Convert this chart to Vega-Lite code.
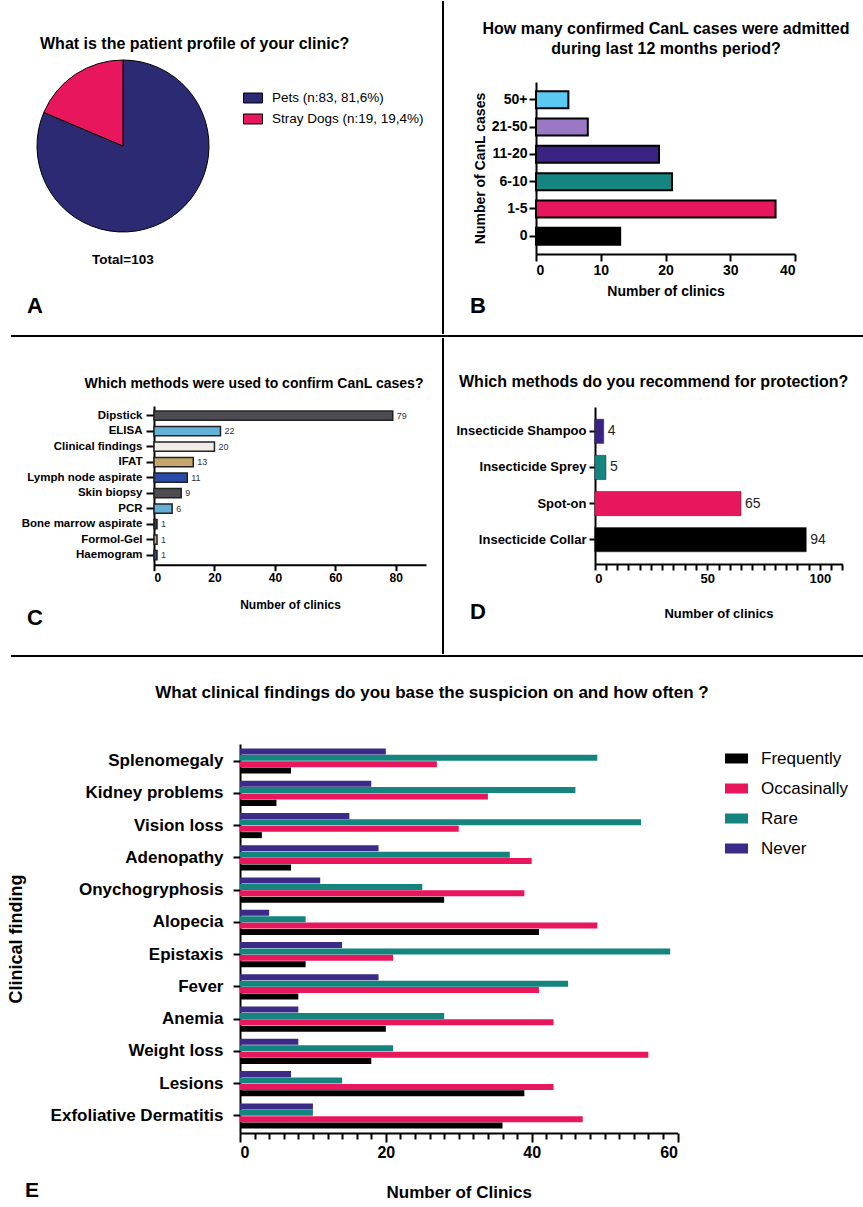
{
  "$schema": "https://vega.github.io/schema/vega-lite/v6.json",
  "padding": 0,
  "background": "white",
  "bounds": "full",
  "spacing": 0,
  "resolve": {"scale": {"color": "independent"}, "legend": {"color": "independent"}},
  "config": {
    "font": "Liberation Sans",
    "view": {"stroke": null},
    "axis": {"domainColor": "black", "domainWidth": 2, "tickColor": "black", "tickWidth": 2, "labelColor": "black", "titleColor": "black", "labelFontWeight": "bold", "titleFontWeight": "bold", "grid": false, "labelLimit": 400},
    "legend": {"labelColor": "black", "padding": 0},
    "title": {"color": "black", "fontWeight": "bold"}
  },
  "vconcat": [
    {
      "bounds": "flush",
      "spacing": 0,
      "resolve": {"scale": {"color": "independent"}, "legend": {"color": "independent"}},
      "hconcat": [
        {
          "width": 10, "height": 334,
          "view": {"fill": "white", "stroke": null},
          "data": {"values": []},
          "mark": "point",
          "title": {"text": "Total=103", "orient": "bottom", "anchor": "start", "frame": "group", "dx": 92, "offset": -82, "fontSize": 13.5}
        },
        {
          "width": 1, "height": 334,
          "data": {"values": []},
          "mark": "point",
          "title": {"text": "A", "orient": "bottom", "anchor": "start", "frame": "group", "dx": 17, "offset": -39, "fontSize": 22}
        },
        {
          "width": 431, "height": 334,
          "title": {"text": "What is the patient profile of your clinic?", "anchor": "start", "frame": "group", "dx": 29, "offset": -51, "fontSize": 16},
          "data": {"values": [
            {"group": "Pets (n:83, 81,6%)", "n": 83},
            {"group": "Stray Dogs (n:19, 19,4%)", "n": 19}
          ]},
          "mark": {"type": "arc", "outerRadius": 86, "stroke": "black", "strokeWidth": 1, "xOffset": -103.5, "yOffset": -22},
          "encoding": {
            "theta": {"field": "n", "type": "quantitative", "stack": true},
            "color": {"field": "group", "type": "nominal",
              "scale": {"domain": ["Pets (n:83, 81,6%)", "Stray Dogs (n:19, 19,4%)"], "range": ["#2b2a73", "#e8175d"]},
              "legend": {"orient": "none", "legendX": 232, "legendY": 87, "title": null, "symbolType": "M-1,-0.526H1V0.526H-1Z", "symbolSize": 361, "symbolStrokeColor": "black", "symbolStrokeWidth": 1, "labelFontSize": 13.5, "labelOffset": 9, "rowPadding": 4}}
          }
        },
        {
          "width": 2, "height": 333,
          "data": {"values": [{}]},
          "mark": {"type": "rule", "strokeWidth": 2, "color": "black"},
          "encoding": {"x": {"datum": 0, "type": "quantitative", "scale": {"domain": [-1, 1]}, "axis": null}},
          "title": {"text": "B", "orient": "bottom", "anchor": "start", "frame": "group", "dx": 28, "offset": -39, "fontSize": 22}
        },
        {
          "width": 419, "height": 334,
          "title": {"text": ["How many confirmed CanL cases were admitted", "during last 12 months period?"], "anchor": "middle", "frame": "group", "dx": 12.5, "offset": -56, "fontSize": 16, "lineHeight": 20},
          "data": {"values": [
            {"cases": "50+", "clinics": 5},
            {"cases": "21-50", "clinics": 8},
            {"cases": "11-20", "clinics": 19},
            {"cases": "6-10", "clinics": 21},
            {"cases": "1-5", "clinics": 37},
            {"cases": "0", "clinics": 13}
          ]},
          "mark": {"type": "bar", "stroke": "black", "strokeWidth": 2},
          "encoding": {
            "y": {"field": "cases", "type": "nominal", "sort": ["50+", "21-50", "11-20", "6-10", "1-5", "0"],
              "scale": {"range": [81, 253], "paddingInner": 0.38, "paddingOuter": 0.337},
              "axis": {"orient": "left", "offset": -92, "title": "Number of CanL cases", "titleFontSize": 14, "labelFontSize": 14, "tickSize": 7, "labelPadding": 2, "titlePadding": 4}},
            "x": {"field": "clinics", "type": "quantitative",
              "scale": {"domain": [0, 40], "range": [92, 351], "nice": false},
              "axis": {"orient": "bottom", "offset": -81, "values": [0, 10, 20, 30, 40], "tickSize": 7, "labelFontSize": 14, "title": "Number of clinics", "titleFontSize": 14, "titlePadding": 7}},
            "color": {"field": "cases", "type": "nominal",
              "scale": {"domain": ["50+", "21-50", "11-20", "6-10", "1-5", "0"], "range": ["#5bc8f2", "#9a78c6", "#3b2384", "#15857f", "#e8175d", "#000000"]},
              "legend": null}
          }
        }
      ]
    },
    {
      "bounds": "flush",
      "spacing": 0,
      "hconcat": [
        {"width": 11, "height": 2, "view": {"fill": "white", "stroke": null}, "data": {"values": []}, "mark": "point"},
        {
          "width": 852, "height": 2,
          "data": {"values": [{}]},
          "mark": {"type": "rule", "strokeWidth": 2, "color": "black"},
          "encoding": {"y": {"datum": 0, "type": "quantitative", "scale": {"domain": [-1, 1]}, "axis": null}}
        }
      ]
    },
    {
      "bounds": "flush",
      "spacing": 0,
      "resolve": {"scale": {"color": "independent"}, "legend": {"color": "independent"}},
      "hconcat": [
        {"width": 10, "height": 317, "view": {"fill": "white", "stroke": null}, "data": {"values": []}, "mark": "point"},
        {
          "width": 1, "height": 317,
          "data": {"values": []},
          "mark": "point",
          "title": {"text": "C", "orient": "bottom", "anchor": "start", "frame": "group", "dx": 17, "offset": -47, "fontSize": 22}
        },
        {
          "width": 431, "height": 317,
          "title": {"text": "Which methods were used to confirm CanL cases?", "anchor": "middle", "frame": "group", "dx": 27.5, "offset": -53, "fontSize": 14},
          "data": {"values": [
            {"method": "Dipstick", "clinics": 79},
            {"method": "ELISA", "clinics": 22},
            {"method": "Clinical findings", "clinics": 20},
            {"method": "IFAT", "clinics": 13},
            {"method": "Lymph node aspirate", "clinics": 11},
            {"method": "Skin biopsy", "clinics": 9},
            {"method": "PCR", "clinics": 6},
            {"method": "Bone marrow aspirate", "clinics": 1},
            {"method": "Formol-Gel", "clinics": 1},
            {"method": "Haemogram", "clinics": 1}
          ]},
          "encoding": {
            "y": {"field": "method", "type": "nominal", "sort": null,
              "scale": {"range": [68, 226.7], "paddingInner": 0.4, "paddingOuter": 0.325},
              "axis": {"orient": "left", "offset": -143, "title": null, "labelFontSize": 11.5, "tickSize": 8, "labelPadding": 4}},
            "x": {"field": "clinics", "type": "quantitative",
              "scale": {"domain": [0, 90], "range": [143, 415], "nice": false},
              "axis": {"orient": "bottom", "offset": -90.3, "values": [0, 20, 40, 60, 80], "tickSize": 6, "labelFontSize": 12, "title": "Number of clinics", "titleFontSize": 12, "titlePadding": 16}}
          },
          "layer": [
            {
              "mark": {"type": "bar", "stroke": "#222222", "strokeWidth": 1.5},
              "encoding": {
                "color": {"field": "method", "type": "nominal",
                  "scale": {"domain": ["Dipstick", "ELISA", "Clinical findings", "IFAT", "Lymph node aspirate", "Skin biopsy", "PCR", "Bone marrow aspirate", "Formol-Gel", "Haemogram"],
                    "range": ["#4c4c52", "#63b1d6", "#f1ece6", "#c8a76a", "#2a4aa8", "#4c4c52", "#63b1d6", "#3b3b3b", "#c8a76a", "#2a4aa8"]},
                  "legend": null}
              }
            },
            {
              "mark": {"type": "text", "align": "left", "dx": 4, "fontSize": 9, "color": "#333333"},
              "encoding": {"text": {"field": "clinics", "type": "quantitative"}}
            }
          ]
        },
        {
          "width": 2, "height": 316,
          "data": {"values": [{}]},
          "mark": {"type": "rule", "strokeWidth": 2, "color": "black"},
          "encoding": {"x": {"datum": 0, "type": "quantitative", "scale": {"domain": [-1, 1]}, "axis": null}},
          "title": {"text": "D", "orient": "bottom", "anchor": "start", "frame": "group", "dx": 28, "offset": -53, "fontSize": 22}
        },
        {
          "width": 419, "height": 317,
          "title": {"text": "Which methods do you recommend for protection?", "anchor": "start", "frame": "group", "dx": 15, "offset": -52, "fontSize": 16},
          "data": {"values": [
            {"method": "Insecticide Shampoo", "clinics": 4},
            {"method": "Insecticide Sprey", "clinics": 5},
            {"method": "Spot-on", "clinics": 65},
            {"method": "Insecticide Collar", "clinics": 94}
          ]},
          "encoding": {
            "y": {"field": "method", "type": "nominal", "sort": null,
              "scale": {"range": [69, 226], "paddingInner": 0.33, "paddingOuter": 0.3375},
              "axis": {"orient": "left", "offset": -151, "title": null, "labelFontSize": 13, "tickSize": 6, "labelPadding": 3}},
            "x": {"field": "clinics", "type": "quantitative",
              "scale": {"domain": [0, 110], "range": [150.7, 398.3], "nice": false},
              "axis": {"orient": "bottom", "offset": -91, "values": [0, 5, 10, 15, 20, 25, 30, 35, 40, 45, 50, 55, 60, 65, 70, 75, 80, 85, 90, 95, 100, 105, 110], "labelExpr": "datum.value % 50 === 0 ? datum.label : ''", "tickSize": 6, "labelFontSize": 13, "title": "Number of clinics", "titleFontSize": 13, "titlePadding": 22}}
          },
          "layer": [
            {
              "mark": {"type": "bar", "stroke": "#222222", "strokeWidth": 0.5},
              "encoding": {
                "color": {"field": "method", "type": "nominal",
                  "scale": {"domain": ["Insecticide Shampoo", "Insecticide Sprey", "Spot-on", "Insecticide Collar"], "range": ["#3b2384", "#15857f", "#e8175d", "#000000"]},
                  "legend": null}
              }
            },
            {
              "mark": {"type": "text", "align": "left", "dx": 4, "fontSize": 14, "color": "#222222"},
              "encoding": {"text": {"field": "clinics", "type": "quantitative"}}
            }
          ]
        }
      ]
    },
    {
      "bounds": "flush",
      "spacing": 0,
      "hconcat": [
        {"width": 11, "height": 2, "view": {"fill": "white", "stroke": null}, "data": {"values": []}, "mark": "point"},
        {
          "width": 852, "height": 2,
          "data": {"values": [{}]},
          "mark": {"type": "rule", "strokeWidth": 2, "color": "black"},
          "encoding": {"y": {"datum": 0, "type": "quantitative", "scale": {"domain": [-1, 1]}, "axis": null}}
        }
      ]
    },
    {
      "bounds": "flush",
      "spacing": 0,
      "hconcat": [
        {
          "width": 1, "height": 552,
          "view": {"fill": "white", "stroke": null},
          "data": {"values": []},
          "mark": "point",
          "title": {"text": "E", "orient": "bottom", "anchor": "start", "frame": "group", "dx": 25, "offset": -29, "fontSize": 21}
        },
        {
          "width": 862, "height": 552,
          "title": {"text": "What clinical findings do you base the suspicion on and how often ?", "anchor": "middle", "frame": "group", "offset": -45, "fontSize": 17},
          "data": {"values": [
            {"finding": "Splenomegaly", "freq": "Frequently", "n": 7},
            {"finding": "Splenomegaly", "freq": "Occasinally", "n": 27},
            {"finding": "Splenomegaly", "freq": "Rare", "n": 49},
            {"finding": "Splenomegaly", "freq": "Never", "n": 20},
            {"finding": "Kidney problems", "freq": "Frequently", "n": 5},
            {"finding": "Kidney problems", "freq": "Occasinally", "n": 34},
            {"finding": "Kidney problems", "freq": "Rare", "n": 46},
            {"finding": "Kidney problems", "freq": "Never", "n": 18},
            {"finding": "Vision loss", "freq": "Frequently", "n": 3},
            {"finding": "Vision loss", "freq": "Occasinally", "n": 30},
            {"finding": "Vision loss", "freq": "Rare", "n": 55},
            {"finding": "Vision loss", "freq": "Never", "n": 15},
            {"finding": "Adenopathy", "freq": "Frequently", "n": 7},
            {"finding": "Adenopathy", "freq": "Occasinally", "n": 40},
            {"finding": "Adenopathy", "freq": "Rare", "n": 37},
            {"finding": "Adenopathy", "freq": "Never", "n": 19},
            {"finding": "Onychogryphosis", "freq": "Frequently", "n": 28},
            {"finding": "Onychogryphosis", "freq": "Occasinally", "n": 39},
            {"finding": "Onychogryphosis", "freq": "Rare", "n": 25},
            {"finding": "Onychogryphosis", "freq": "Never", "n": 11},
            {"finding": "Alopecia", "freq": "Frequently", "n": 41},
            {"finding": "Alopecia", "freq": "Occasinally", "n": 49},
            {"finding": "Alopecia", "freq": "Rare", "n": 9},
            {"finding": "Alopecia", "freq": "Never", "n": 4},
            {"finding": "Epistaxis", "freq": "Frequently", "n": 9},
            {"finding": "Epistaxis", "freq": "Occasinally", "n": 21},
            {"finding": "Epistaxis", "freq": "Rare", "n": 59},
            {"finding": "Epistaxis", "freq": "Never", "n": 14},
            {"finding": "Fever", "freq": "Frequently", "n": 8},
            {"finding": "Fever", "freq": "Occasinally", "n": 41},
            {"finding": "Fever", "freq": "Rare", "n": 45},
            {"finding": "Fever", "freq": "Never", "n": 19},
            {"finding": "Anemia", "freq": "Frequently", "n": 20},
            {"finding": "Anemia", "freq": "Occasinally", "n": 43},
            {"finding": "Anemia", "freq": "Rare", "n": 28},
            {"finding": "Anemia", "freq": "Never", "n": 8},
            {"finding": "Weight loss", "freq": "Frequently", "n": 18},
            {"finding": "Weight loss", "freq": "Occasinally", "n": 56},
            {"finding": "Weight loss", "freq": "Rare", "n": 21},
            {"finding": "Weight loss", "freq": "Never", "n": 8},
            {"finding": "Lesions", "freq": "Frequently", "n": 39},
            {"finding": "Lesions", "freq": "Occasinally", "n": 43},
            {"finding": "Lesions", "freq": "Rare", "n": 14},
            {"finding": "Lesions", "freq": "Never", "n": 7},
            {"finding": "Exfoliative Dermatitis", "freq": "Frequently", "n": 36},
            {"finding": "Exfoliative Dermatitis", "freq": "Occasinally", "n": 47},
            {"finding": "Exfoliative Dermatitis", "freq": "Rare", "n": 10},
            {"finding": "Exfoliative Dermatitis", "freq": "Never", "n": 10}
          ]},
          "mark": {"type": "bar"},
          "encoding": {
            "y": {"field": "finding", "type": "nominal",
              "sort": ["Splenomegaly", "Kidney problems", "Vision loss", "Adenopathy", "Onychogryphosis", "Alopecia", "Epistaxis", "Fever", "Anemia", "Weight loss", "Lesions", "Exfoliative Dermatitis"],
              "scale": {"range": [87, 476], "paddingInner": 0.22, "paddingOuter": 0.1375},
              "axis": {"orient": "left", "offset": -239, "title": "Clinical finding", "titleFontSize": 18, "titlePadding": 25, "labelFontSize": 17, "tickSize": 7, "labelPadding": 10}},
            "yOffset": {"field": "freq", "type": "nominal", "sort": ["Never", "Rare", "Occasinally", "Frequently"], "scale": {"paddingInner": 0.06}},
            "x": {"field": "n", "type": "quantitative",
              "scale": {"domain": [0, 60], "range": [239, 676.5], "nice": false},
              "axis": {"orient": "bottom", "offset": -76,
                "values": [0, 2, 4, 6, 8, 10, 12, 14, 16, 18, 20, 22, 24, 26, 28, 30, 32, 34, 36, 38, 40, 42, 44, 46, 48, 50, 52, 54, 56, 58, 60],
                "labelExpr": "datum.value % 20 === 0 ? datum.label : ''",
                "tickSize": {"condition": {"test": "datum.value % 20 === 0", "value": 9}, "value": 6},
                "labelFontSize": 16, "labelPadding": 2,
                "title": "Number of Clinics", "titleFontSize": 17, "titlePadding": 24}},
            "color": {"field": "freq", "type": "nominal",
              "scale": {"domain": ["Frequently", "Occasinally", "Rare", "Never"], "range": ["#000000", "#e8175d", "#14847e", "#3b2a88"]},
              "legend": {"orient": "none", "legendX": 725, "legendY": 90, "title": null, "symbolType": "M-1,-0.435H1V0.435H-1Z", "symbolSize": 529, "symbolStrokeWidth": 0, "labelFontSize": 17, "labelOffset": 13, "rowPadding": 10}}
          }
        }
      ]
    }
  ]
}
